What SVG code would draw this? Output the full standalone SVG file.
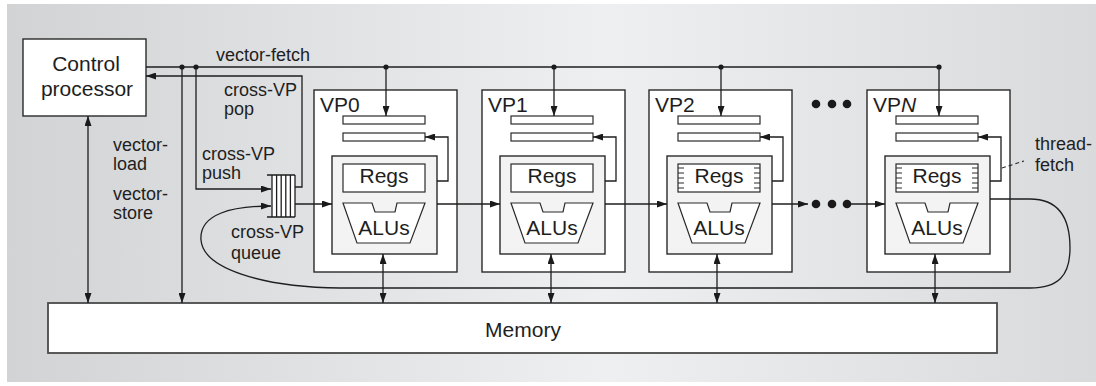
<svg xmlns="http://www.w3.org/2000/svg" width="1096" height="386" viewBox="0 0 1096 386">
  <defs>
    <linearGradient id="panelGrad" x1="0" y1="0" x2="1" y2="0">
      <stop offset="0" stop-color="#d2d3d5"/>
      <stop offset="0.55" stop-color="#eeeff0"/>
      <stop offset="1" stop-color="#d9dadc"/>
    </linearGradient>
    <marker id="arrowEnd" viewBox="0 0 10 7" refX="10" refY="3.5" markerWidth="10" markerHeight="7" markerUnits="userSpaceOnUse" orient="auto">
      <path d="M0,0 L10,3.5 L0,7 Z" fill="#1a1a1a"/>
    </marker>
    <marker id="arrowStart" viewBox="0 0 10 7" refX="0" refY="3.5" markerWidth="10" markerHeight="7" markerUnits="userSpaceOnUse" orient="auto">
      <path d="M10,0 L0,3.5 L10,7 Z" fill="#1a1a1a"/>
    </marker>
    <style>
      text { font-family: "Liberation Sans", Arial, sans-serif; fill: #1e1e1e; }
      .lbl { font-size: 18px; }
      .big { font-size: 21px; }
      .mid { text-anchor: middle; }
      .box { fill: #ffffff; stroke: #2a2a2a; stroke-width: 1.4; }
      .inner { fill: #f3f3f3; stroke: #2a2a2a; stroke-width: 1.4; }
      .bar { fill: #ffffff; stroke: #2a2a2a; stroke-width: 1.2; }
      .wire { fill: none; stroke: #1e1e1e; stroke-width: 1.3; }
      .arr { fill: none; stroke: #1e1e1e; stroke-width: 1.3; marker-end: url(#arrowEnd); }
      .dbl { fill: none; stroke: #1e1e1e; stroke-width: 1.3; marker-start: url(#arrowStart); marker-end: url(#arrowEnd); }
      .tick { stroke: #2a2a2a; stroke-width: 1.1; }
      .dot { fill: #1a1a1a; }
    </style>
  </defs>

  <!-- background panel -->
  <rect x="7" y="4" width="1089" height="378" fill="url(#panelGrad)"/>

  <!-- control processor -->
  <g id="control-processor">
    <rect class="box" x="23" y="39" width="123" height="77"/>
    <text class="big mid" x="86" y="71">Control</text>
    <text class="big mid" x="87" y="96">processor</text>
  </g>

  <!-- cross-VP queue -->
  <g id="cross-vp-queue">
    <rect x="272" y="175" width="23" height="42" fill="#ffffff" stroke="none"/>
    <path class="wire" d="M267 175 H295 M267 217 H295 M272 175 V217 M276.6 175 V217 M281.2 175 V217 M285.8 175 V217 M290.4 175 V217 M295 175 V217"/>
  </g>

  <!-- VP0 -->
  <g id="vp0">
    <rect class="box" x="314" y="90" width="143" height="182"/>
    <text class="big" x="320" y="112">VP0</text>
    <rect class="bar" x="343" y="116" width="82" height="8"/>
    <rect class="bar" x="343" y="133" width="82" height="8"/>
    <rect class="inner" x="332" y="156" width="105" height="98"/>
    <rect class="bar" x="343" y="164" width="82" height="28"/>
    <text class="big mid" x="384" y="183">Regs</text>
    <path class="bar" d="M343 203 H372 L375 212 H395 L397 203 H425 L410 243 H357 Z"/>
    <text class="big mid" x="384" y="235">ALUs</text>
    <path class="arr" d="M437 181 H448 V137 H425"/>
  </g>

  <!-- VP1 -->
  <g id="vp1">
    <rect class="box" x="482" y="90" width="143" height="182"/>
    <text class="big" x="488" y="112">VP1</text>
    <rect class="bar" x="511" y="116" width="82" height="8"/>
    <rect class="bar" x="511" y="133" width="82" height="8"/>
    <rect class="inner" x="500" y="156" width="105" height="98"/>
    <rect class="bar" x="511" y="164" width="82" height="28"/>
    <text class="big mid" x="552" y="183">Regs</text>
    <path class="bar" d="M511 203 H540 L543 212 H563 L565 203 H593 L578 243 H525 Z"/>
    <text class="big mid" x="552" y="235">ALUs</text>
    <path class="arr" d="M605 181 H616 V137 H593"/>
  </g>

  <!-- VP2 -->
  <g id="vp2">
    <rect class="box" x="649" y="90" width="143" height="182"/>
    <text class="big" x="655" y="112">VP2</text>
    <rect class="bar" x="678" y="116" width="82" height="8"/>
    <rect class="bar" x="678" y="133" width="82" height="8"/>
    <rect class="inner" x="667" y="156" width="105" height="98"/>
    <rect class="bar" x="678" y="164" width="82" height="28"/>
    <path class="tick" d="M678 168 H684 M678 173 H684 M678 178 H684 M678 183 H684 M678 188 H684 M754 168 H760 M754 173 H760 M754 178 H760 M754 183 H760 M754 188 H760"/>
    <text class="big mid" x="719" y="183">Regs</text>
    <path class="bar" d="M678 203 H707 L710 212 H730 L732 203 H760 L745 243 H692 Z"/>
    <text class="big mid" x="719" y="235">ALUs</text>
    <path class="arr" d="M772 181 H783 V137 H760"/>
  </g>

  <!-- VPN -->
  <g id="vpn">
    <rect class="box" x="867" y="90" width="143" height="182"/>
    <text class="big" x="873" y="112">VP<tspan font-style="italic">N</tspan></text>
    <rect class="bar" x="896" y="116" width="82" height="8"/>
    <rect class="bar" x="896" y="133" width="82" height="8"/>
    <rect class="inner" x="885" y="156" width="105" height="98"/>
    <rect class="bar" x="896" y="164" width="82" height="28"/>
    <path class="tick" d="M896 168 H902 M896 173 H902 M896 178 H902 M896 183 H902 M896 188 H902 M972 168 H978 M972 173 H978 M972 178 H978 M972 183 H978 M972 188 H978"/>
    <text class="big mid" x="937" y="183">Regs</text>
    <path class="bar" d="M896 203 H925 L928 212 H948 L950 203 H978 L963 243 H910 Z"/>
    <text class="big mid" x="937" y="235">ALUs</text>
    <path class="arr" d="M990 181 H1001 V137 H978"/>
  </g>

  <!-- memory -->
  <g id="memory">
    <rect x="48" y="303" width="949" height="50" fill="#ffffff" stroke="#4a4a4a" stroke-width="1.8"/>
    <text class="big mid" x="523" y="337">Memory</text>
  </g>

  <!-- connectors, drawn over the boxes so arrowheads stay visible -->
  <g id="connectors">
    <!-- vector-fetch bus -->
    <path class="wire" d="M146 67 H939"/>
    <circle class="dot" cx="182" cy="67" r="2.6"/>
    <circle class="dot" cx="196" cy="67" r="2.6"/>
    <circle class="dot" cx="386" cy="67" r="2.6"/>
    <circle class="dot" cx="554" cy="67" r="2.6"/>
    <circle class="dot" cx="721" cy="67" r="2.6"/>
    <circle class="dot" cx="939" cy="67" r="2.6"/>
    <path class="arr" d="M386 67 V116"/>
    <path class="arr" d="M554 67 V116"/>
    <path class="arr" d="M721 67 V116"/>
    <path class="arr" d="M939 67 V116"/>

    <!-- cross-VP pop back to control processor -->
    <path class="arr" d="M295 187 H302 V76 H146"/>
    <!-- cross-VP push into queue -->
    <path class="arr" d="M196 67 V189 H271"/>
    <!-- vector-load / vector-store -->
    <path class="dbl" d="M88 116 V303"/>
    <path class="arr" d="M182 67 V303"/>

    <!-- queue to VP0 and chain of VPs -->
    <path class="arr" d="M295 204 H332"/>
    <path class="arr" d="M437 204 H500"/>
    <path class="arr" d="M605 204 H667"/>
    <path class="arr" d="M772 204 H808"/>
    <path class="arr" d="M847 204 H885"/>
    <circle class="dot" cx="816" cy="204" r="4.3"/>
    <circle class="dot" cx="832" cy="204" r="4.3"/>
    <circle class="dot" cx="847" cy="204" r="4.3"/>
    <circle class="dot" cx="816" cy="104" r="4.3"/>
    <circle class="dot" cx="832" cy="104" r="4.3"/>
    <circle class="dot" cx="847" cy="104" r="4.3"/>

    <!-- wrap-around from VPN back into the queue -->
    <path class="arr" d="M990 199 H1030 C1062 199 1070 222 1070 248 C1070 276 1058 288 1030 288 L340 288 C260 287 203 268 201 240 C199 214 232 206 271 206"/>

    <!-- memory ports -->
    <path class="dbl" d="M383 254 V303"/>
    <path class="dbl" d="M551 254 V303"/>
    <path class="dbl" d="M717 254 V303"/>
    <path class="dbl" d="M935 254 V303"/>

    <!-- thread-fetch leader -->
    <path d="M1002 168 L1024 161" stroke="#2a2a2a" stroke-width="1.1" stroke-dasharray="4 3" fill="none"/>
  </g>

  <!-- connector labels -->
  <g id="labels">
    <text class="lbl" x="216" y="61">vector-fetch</text>
    <text class="lbl" x="224" y="96">cross-VP</text>
    <text class="lbl" x="224" y="115">pop</text>
    <text class="lbl" x="113" y="151">vector-</text>
    <text class="lbl" x="113" y="170">load</text>
    <text class="lbl" x="113" y="200">vector-</text>
    <text class="lbl" x="113" y="219">store</text>
    <text class="lbl" x="202" y="160">cross-VP</text>
    <text class="lbl" x="202" y="179">push</text>
    <text class="lbl" x="231" y="238">cross-VP</text>
    <text class="lbl" x="231" y="259">queue</text>
    <text class="lbl" x="1035" y="150">thread-</text>
    <text class="lbl" x="1035" y="171">fetch</text>
  </g>
</svg>
